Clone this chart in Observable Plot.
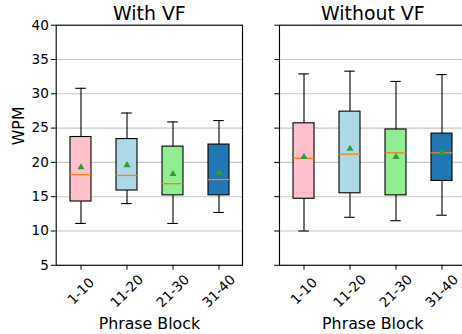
<!DOCTYPE html>
<html>
<head>
<meta charset="utf-8">
<script src="https://cdn.jsdelivr.net/npm/d3@7"></script>
<script src="https://cdn.jsdelivr.net/npm/@observablehq/plot@0.6"></script>
<style>
  html, body { margin: 0; padding: 0; background: #fff; overflow: hidden; }
  #wrap { position: relative; width: 462px; height: 334px; overflow: hidden; }
  #wrap > svg { position: absolute; top: 0; }
</style>
</head>
<body>
<div id="wrap"></div>
<script>
const blocks = ["1-10", "11-20", "21-30", "31-40"];
const boxColors = ["pink", "lightblue", "lightgreen", "#1f77b4"];
const yTicks = [5, 10, 15, 20, 25, 30, 35, 40];

// With VF
const withLow  = [11.1, 14.0, 11.1, 12.7];
const withQ1   = [14.3, 15.9, 15.2, 15.2];
const withMed  = [18.2, 18.1, 16.9, 17.5];
const withQ3   = [23.7, 23.4, 22.3, 22.6];
const withHigh = [30.8, 27.2, 25.9, 26.1];
const withMean = [19.3, 19.6, 18.3, 18.5];

// Without VF
const woLow  = [10.0, 12.0, 11.5, 12.3];
const woQ1   = [14.7, 15.5, 15.2, 17.3];
const woMed  = [20.6, 21.2, 21.4, 21.4];
const woQ3   = [25.7, 27.4, 24.8, 24.2];
const woHigh = [32.9, 33.3, 31.8, 32.8];
const woMean = [20.8, 22.0, 20.8, 21.4];

const FONT = "DejaVu Sans, sans-serif";

function rows(low, q1, med, q3, high, mean) {
  return blocks.map((b, i) => ({block: b, color: boxColors[i], low: low[i], q1: q1[i], med: med[i], q3: q3[i], high: high[i], mean: mean[i]}));
}

function panel({data, title, width, marginLeft, marginRight, showYLabels}) {
  const frameW = width - marginLeft - marginRight;
  const capInset = frameW / 4 * 0.45 / 4;
  const marks = [
    Plot.gridY(yTicks, {stroke: "#b0b0b0", strokeOpacity: 0.7, strokeWidth: 1.1}),
    Plot.ruleX(data, {x: "block", y1: "low", y2: "q1", stroke: "black", strokeWidth: 1.1}),
    Plot.ruleX(data, {x: "block", y1: "q3", y2: "high", stroke: "black", strokeWidth: 1.1}),
    Plot.tickY(data, {x: "block", y: "low", stroke: "black", strokeWidth: 1.1, insetLeft: capInset, insetRight: capInset}),
    Plot.tickY(data, {x: "block", y: "high", stroke: "black", strokeWidth: 1.1, insetLeft: capInset, insetRight: capInset}),
    Plot.barY(data, {x: "block", y1: "q1", y2: "q3", fill: "color", stroke: "black", strokeWidth: 1.1}),
    Plot.tickY(data, {x: "block", y: "med", stroke: "#ff7f0e", strokeWidth: 1.3}),
    Plot.dot(data, {x: "block", y: "mean", symbol: "triangle", r: 2.6, fill: "#2ca02c", stroke: "none"}),
    Plot.frame({stroke: "black", strokeWidth: 1.1}),
    Plot.axisY(yTicks, {tickSize: 4.8, tickPadding: 2.5, fontSize: 13.6, label: null,
      tickFormat: showYLabels ? d => String(d) : () => ""}),
    Plot.axisX({tickSize: 4.8, tickFormat: () => "", label: null}),
    Plot.text(blocks, {x: d => d, frameAnchor: "bottom", lineAnchor: "middle", dy: 26, rotate: -45, textAnchor: "middle", fontSize: 13.6, fill: "black"}),
    Plot.text(["Phrase Block"], {frameAnchor: "bottom", lineAnchor: "middle", dy: 58.5, fontSize: 15.8, fill: "black"}),
    Plot.text([title], {frameAnchor: "top", lineAnchor: "middle", dy: -11.7, fontSize: 18.9, fill: "black"})
  ];
  if (showYLabels) {
    marks.push(Plot.text(["WPM"], {frameAnchor: "left", lineAnchor: "middle", dx: -37.5, rotate: -90, fontSize: 15.8, fill: "black"}));
  }
  return Plot.plot({
    width, height: 334,
    marginLeft, marginRight, marginTop: 24.7, marginBottom: 69.2,
    style: {fontFamily: FONT, color: "black", background: "white", overflow: "visible"},
    x: {type: "band", domain: blocks, paddingInner: 0.55, paddingOuter: 0.275, axis: null},
    y: {domain: [5, 40], axis: null},
    marks
  });
}

const wrap = document.getElementById("wrap");
const left = panel({data: rows(withLow, withQ1, withMed, withQ3, withHigh, withMean), title: "With VF", width: 246, marginLeft: 55.7, marginRight: 4, showYLabels: true});
left.style.left = "0px";
wrap.appendChild(left);
const right = panel({data: rows(woLow, woQ1, woMed, woQ3, woHigh, woMean), title: "Without VF", width: 200, marginLeft: 10, marginRight: 3.4, showYLabels: false});
right.style.left = "269px";
wrap.appendChild(right);
</script>
</body>
</html>
